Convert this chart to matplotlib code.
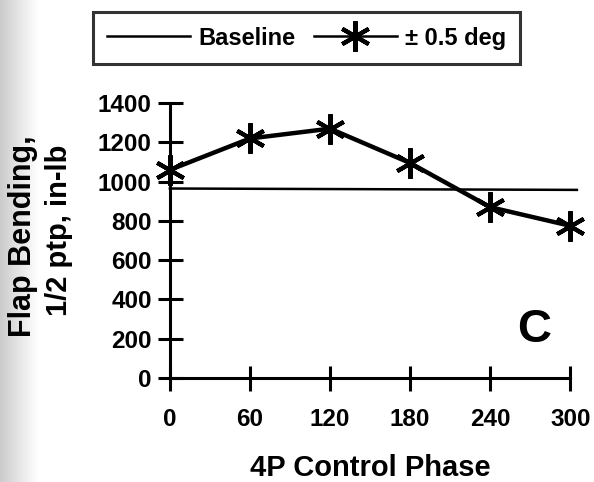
import numpy as np
import matplotlib
matplotlib.use("Agg")
import matplotlib.pyplot as plt
from matplotlib.lines import Line2D

phase = [0, 60, 120, 180, 240, 300]
deg05 = [1060, 1220, 1270, 1095, 870, 775]
baseline_x = [0, 305]
baseline_y = [965, 958]
xticks = [0, 60, 120, 180, 240, 300]
yticks = [0, 200, 400, 600, 800, 1000, 1200, 1400]

plt.rcParams['font.family'] = ['Liberation Sans', 'DejaVu Sans']
fig = plt.figure(figsize=(5.94, 4.82), dpi=100)

# halftone-like gray strip on left edge
strip = fig.add_axes([0, 0, 0.065, 1])
grad = np.linspace(0.72, 1.0, 100)[None, :] ** 0.7 * np.ones((10, 1))
strip.imshow(grad, cmap='gray', vmin=0, vmax=1, aspect='auto', extent=[0, 1, 0, 1])
strip.axis('off')

ax = fig.add_axes([0.286, 0.216, 0.674, 0.57])
ax.patch.set_alpha(0)
ax.plot(baseline_x, baseline_y, color='black', lw=1.8, clip_on=False)
ax.plot(phase, deg05, color='black', lw=3.2, marker=(6, 2, 0), markersize=22,
        markeredgewidth=3, clip_on=False)

ax.set_xlim(0, 300)
ax.set_ylim(0, 1400)
ax.set_xticks(xticks)
ax.set_yticks(yticks)
for s in ['top', 'right']:
    ax.spines[s].set_visible(False)
for s in ['left', 'bottom']:
    ax.spines[s].set_linewidth(2.2)
ax.tick_params(direction='inout', length=18, width=2.2, labelsize=17.5)
ax.tick_params(axis='x', pad=13)
ax.tick_params(axis='y', pad=4)
for lab in ax.get_xticklabels() + ax.get_yticklabels():
    lab.set_fontweight('bold')

ax.set_xlabel('4P Control Phase', fontsize=21, fontweight='bold', labelpad=16)
fig.text(0.038, 0.51, 'Flap Bending,', rotation=90, fontsize=22, fontweight='bold',
         ha='center', va='center')
fig.text(0.1, 0.522, '1/2 ptp, in-lb', rotation=90, fontsize=21, fontweight='bold',
         ha='center', va='center')

ax.text(0.91, 0.175, 'C', transform=ax.transAxes, fontsize=34, fontweight='bold',
        ha='center', va='center')

handles = [Line2D([0], [0], color='black', lw=1.8),
           Line2D([0], [0], color='black', lw=1.8, marker=(6, 2, 0), markersize=22,
                  markeredgewidth=3)]
leg = fig.legend(handles, ['Baseline', '± 0.5 deg'], loc='center',
                 bbox_to_anchor=(0.516, 0.921), ncol=2, frameon=True, fancybox=False,
                 edgecolor='black', prop={'weight': 'bold', 'size': 17},
                 handlelength=3.5, handletextpad=0.35, columnspacing=0.8,
                 borderpad=0.6)
leg.get_frame().set_linewidth(2.2)

fig.savefig('out.png', dpi=100)
